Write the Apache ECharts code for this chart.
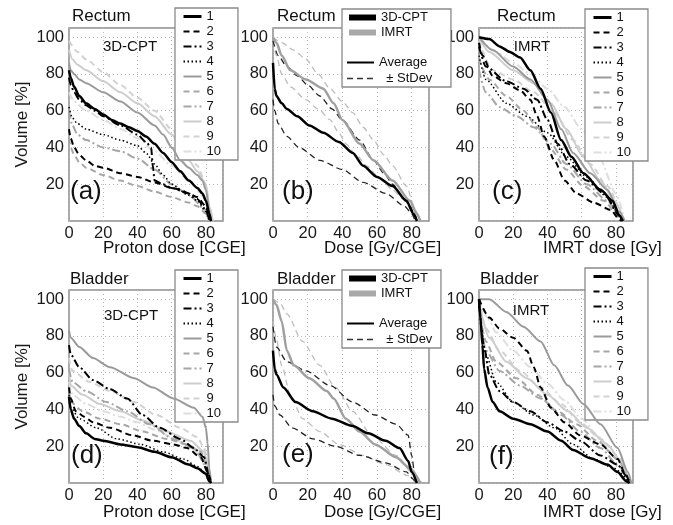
<!DOCTYPE html>
<html>
<head>
<meta charset="utf-8">
<script src="https://cdn.jsdelivr.net/npm/echarts@6/dist/echarts.min.js"></script>
<style>html,body{margin:0;padding:0;background:#fff;}#chart{width:673px;height:525px;}</style>
</head>
<body>
<div id="chart"></div>
<script>
// ---------- data: [dose, volume %] pairs ----------
const patientNames = ['1','2','3','4','5','6','7','8','9','10'];
const xTicks = [0, 20, 40, 60, 80];
const yTicks = [20, 40, 60, 80, 100];

// (a) Rectum, 3D-CPT, patients 1..10
const rectumCPT = [
  [[0,82],[1,78],[3,73],[6,68],[10,64],[15,61],[20,58],[25,55],[30,53],[35,51],[40,49],[45,46],[50,42],[55,37],[60,32],[65,27],[70,22],[75,18],[78,15],[80,11],[82,4],[83,0]],
  [[0,50],[1,45],[3,40],[6,36],[10,33],[15,30],[20,29],[30,26],[40,24],[50,21],[60,18],[65,17],[70,15],[75,13],[80,8],[82,2],[83,0]],
  [[0,78],[1,74],[3,70],[6,66],[10,63],[15,60],[20,57],[30,52],[40,47],[45,43],[48,40],[49,30],[50,22],[55,20],[60,18],[70,15],[75,12],[80,6],[82,1],[83,0]],
  [[0,62],[2,56],[5,53],[10,50],[20,47],[30,44],[40,41],[45,37],[50,31],[55,25],[60,20],[70,14],[75,11],[80,5],[82,0]],
  [[0,86],[1,82],[3,80],[6,77],[10,75],[20,70],[30,65],[40,59],[50,52],[55,47],[60,40],[65,33],[70,29],[75,25],[78,22],[80,17],[82,6],[83,0]],
  [[0,45],[1,40],[3,36],[6,32],[10,29],[20,25],[30,22],[40,19],[50,16],[60,13],[70,10],[75,8],[80,4],[82,0]],
  [[0,60],[2,52],[5,47],[10,44],[20,40],[30,38],[40,34],[50,28],[60,20],[70,14],[80,6],[82,0]],
  [[0,93],[2,88],[5,85],[10,82],[20,76],[30,70],[40,64],[50,57],[60,47],[70,33],[75,27],[80,20],[82,8],[84,0]],
  [[0,98],[5,92],[10,88],[20,81],[30,74],[40,67],[50,60],[60,50],[70,38],[75,30],[80,20],[82,8],[84,0]],
  [[0,70],[3,65],[10,60],[20,55],[30,50],[40,45],[50,38],[60,30],[70,22],[80,12],[83,0]]
];

// (b) Rectum, averages and +/- StDev
const rectumCptMean  = [[0,86],[1,72],[2,68],[5,64],[8,61],[14,57],[21,52],[29,48],[38,43],[46,37],[52,30],[60,24],[69,19],[77,11],[81,4],[83,0]];
const rectumCptPlus  = [[0,98],[3,90],[8,84],[14,79],[20,74],[27,68],[34,61],[40,55],[50,44],[58,33],[64,26],[69,20],[75,13],[79,8],[82,3],[83,0]];
const rectumCptMinus = [[0,66],[1,60],[3,53],[8,46],[15,40],[27,33],[40,28],[52,21],[65,15],[76,8],[80,4],[82,0]];
const rectumImrtMean  = [[0,100],[2,97],[5,90],[10,82],[19,77],[29,72],[35,64],[40,55],[50,42],[58,33],[69,22],[79,11],[83,4],[85,0]];
const rectumImrtPlus  = [[0,100],[5,97],[12,93],[19,88],[26,80],[33,72],[40,65],[46,59],[52,51],[58,44],[64,36],[69,30],[77,19],[82,6],[85,0]];
const rectumImrtMinus = [[0,98],[2,90],[5,80],[10,73],[19,66],[26,61],[33,55],[38,48],[42,42],[48,36],[54,30],[62,23],[69,17],[75,12],[79,8],[84,0]];

// (c) Rectum, IMRT, patients 1..10
const rectumIMRT = [
  [[0,100],[6,99],[12,95],[18,92],[24,89],[30,82],[36,72],[42,59],[48,44],[54,35],[61,26],[71,17],[78,11],[82,3],[84,0]],
  [[0,97],[2,90],[8,79],[16,75],[24,71],[30,66],[34,57],[38,46],[44,33],[50,22],[57,15],[67,10],[77,6],[82,1],[83,0]],
  [[0,95],[4,84],[16,76],[26,72],[34,66],[40,55],[46,42],[53,31],[63,22],[73,15],[82,3],[84,0]],
  [[0,90],[4,77],[16,64],[28,57],[40,48],[51,35],[63,24],[75,13],[82,3],[84,0]],
  [[0,100],[8,93],[20,84],[30,77],[40,66],[48,50],[55,37],[65,26],[75,17],[82,5],[85,0]],
  [[0,88],[6,77],[16,68],[26,60],[34,51],[42,39],[51,28],[61,19],[73,11],[82,2],[84,0]],
  [[0,82],[4,70],[12,62],[22,57],[32,51],[42,42],[51,31],[63,20],[75,11],[82,3],[84,0]],
  [[0,100],[6,92],[20,82],[32,75],[42,64],[51,50],[61,35],[71,22],[79,11],[85,0]],
  [[0,98],[8,82],[20,77],[32,70],[44,59],[55,44],[65,31],[75,19],[84,0]],
  [[0,100],[10,92],[20,86],[30,80],[40,72],[50,62],[60,50],[70,35],[80,15],[85,0]]
];

// (d) Bladder, 3D-CPT, patients 1..10
const bladderCPT = [
  [[0,47],[1,40],[3,35],[6,31],[10,27],[15,24],[20,23],[30,21],[40,19.5],[50,17],[60,14],[70,10],[75,8],[80,5],[82,1],[83,0]],
  [[0,52],[1,46],[4,39],[9,36],[14,33],[24,30],[37,26],[49,23],[61,21],[69,19],[77,14],[81,6],[83,0]],
  [[0,75],[1,70],[6,63],[14,56],[24,51],[34,46],[43,37],[53,30],[65,24],[73,19],[79,14],[82,3],[83,0]],
  [[0,48],[1,41],[6,35],[16,30],[28,24],[42,21],[55,17],[67,13],[75,9],[80,5],[82,2],[83,0]],
  [[0,83],[1,79],[6,74],[14,68],[24,63],[38,57],[49,52],[61,46],[73,41],[78,36],[80,30],[81,22],[82,8],[83,0]],
  [[0,50],[1,44],[8,39],[18,35],[30,32],[43,28],[57,24],[69,21],[77,17],[81,8],[83,0]],
  [[0,62],[2,55],[10,50],[22,44],[34,39],[47,32],[61,24],[73,19],[81,8],[83,0]],
  [[0,60],[1,53],[8,48],[18,43],[30,39],[43,34],[57,28],[71,23],[79,17],[82,5],[83,0]],
  [[0,68],[2,61],[12,55],[24,50],[38,44],[51,37],[65,30],[75,25],[79,19],[82,6],[83,0]],
  [[0,55],[2,48],[10,43],[20,39],[30,36],[40,33],[50,29],[60,25],[70,20],[80,12],[83,0]]
];

// (e) Bladder, averages and +/- StDev
const bladderCptMean  = [[0,72],[1,62],[2,59],[6,52],[13,44],[23,39],[34,35],[46,31],[55,27],[65,23],[73,19],[78,12],[80,6],[83,0]];
const bladderCptPlus  = [[0,85],[2,74],[8,66],[19,61],[33,53],[46,44],[59,37],[71,32],[78,26],[80,15],[82,3],[83,0]];
const bladderCptMinus = [[0,48],[1,42],[4,37],[11,30],[23,24],[36,20],[50,15],[65,11],[77,6],[81,2],[82,0]];
const bladderImrtMean  = [[0,100],[2,97],[5,88],[8,72],[12,64],[21,57],[31,50],[35,46],[42,35],[50,28],[59,21],[71,14],[79,8],[85,0]];
const bladderImrtPlus  = [[0,100],[4,98],[8,92],[17,77],[27,64],[36,52],[46,39],[57,26],[71,15],[80,6],[86,0]];
const bladderImrtMinus = [[0,88],[2,78],[5,64],[10,48],[17,35],[27,28],[38,21],[52,15],[65,10],[78,4],[84,0]];

// (f) Bladder, IMRT, patients 1..10
const bladderIMRT = [
  [[0,100],[1,88],[2,75],[3,62],[5,52],[8,44],[12,39],[20,35],[30,32],[40,28],[48,23],[55,18],[65,13.5],[75,10],[81,6],[86,1],[88,0]],
  [[0,100],[6,90],[12,84],[20,79],[28,72],[32,63],[36,52],[42,41],[50,33],[59,26],[71,21],[81,13],[85,6],[88,0]],
  [[0,98],[3,74],[6,59],[12,50],[20,44],[30,39],[40,33],[50,28],[59,23],[71,15],[81,10],[86,4],[88,0]],
  [[0,96],[4,70],[10,55],[20,44],[32,37],[44,30],[55,21],[67,13],[79,8],[88,0]],
  [[0,100],[6,100],[16,93],[26,85],[36,77],[44,64],[52,53],[61,43],[71,32],[81,19],[87,6],[89,0]],
  [[0,95],[4,77],[10,66],[22,57],[34,48],[46,39],[57,32],[69,23],[81,13],[88,0]],
  [[0,95],[4,72],[12,61],[24,53],[36,46],[48,37],[59,28],[71,19],[81,10],[88,0]],
  [[0,98],[6,79],[16,66],[28,57],[40,48],[52,39],[63,30],[75,21],[83,12],[88,0]],
  [[0,100],[4,84],[12,72],[24,61],[36,52],[48,43],[59,33],[71,24],[83,13],[88,0]],
  [[0,100],[5,90],[10,82],[20,72],[30,63],[40,54],[50,45],[60,35],[70,25],[80,14],[88,0]]
];

// ---------- styling / layout ----------
const FONT = '"Liberation Sans", Arial, Helvetica, sans-serif';
const patientStyles = [
  {color:'#000000', type:'solid', width:2.5},
  {color:'#000000', type:[6,4], width:2},
  {color:'#000000', type:[8,3,2,3], width:2},
  {color:'#000000', type:[1.5,2.5], width:1.5},
  {color:'#9a9a9a', type:'solid', width:2},
  {color:'#a6a6a6', type:[6,4], width:2},
  {color:'#a6a6a6', type:[8,3,2,3], width:2},
  {color:'#cdcdcd', type:'solid', width:2},
  {color:'#d2d2d2', type:[6,4], width:2},
  {color:'#dedede', type:[8,3,2,3], width:2}
];
const grids = [
  {left:69,  top:28,  width:154, height:193},
  {left:273, top:28,  width:156, height:193},
  {left:479, top:28,  width:154, height:193},
  {left:69,  top:290, width:154, height:193},
  {left:273, top:290, width:156, height:193},
  {left:479, top:290, width:154, height:193}
];

const xAxes = grids.map((g, i) => ({
  type:'value', gridIndex:i, min:0, max:90, interval:20,
  axisLine:{show:false}, axisTick:{show:false},
  splitLine:{show:true, lineStyle:{type:[1,3], color:'#b4b4b4', width:1}},
  axisLabel:{fontFamily:FONT, fontSize:16.5, color:'#1a1a1a', margin:4,
    formatter: v => xTicks.indexOf(v) >= 0 ? String(v) : ''}
}));
const yAxes = grids.map((g, i) => ({
  type:'value', gridIndex:i, min:0, max:105, interval:20,
  name: (i === 0 || i === 3) ? 'Volume [%]' : '',
  nameLocation:'middle', nameGap:38,
  nameTextStyle:{fontFamily:FONT, fontSize:17, color:'#1a1a1a'},
  axisLine:{show:false}, axisTick:{show:false},
  splitLine:{show:true, lineStyle:{type:[1,3], color:'#b4b4b4', width:1}},
  axisLabel:{fontFamily:FONT, fontSize:16.5, color:'#1a1a1a', margin:5,
    formatter: v => yTicks.indexOf(v) >= 0 ? String(v) : ''}
}));

const series = [];
function addPatients(curves, gi) {
  curves.forEach((pts, k) => {
    series.push({
      type:'line', name:patientNames[k], xAxisIndex:gi, yAxisIndex:gi,
      data:pts, symbol:'none', smooth:0.25, smoothMonotone:'x',
      lineStyle:{color:patientStyles[k].color, type:patientStyles[k].type, width:patientStyles[k].width},
      itemStyle:{color:patientStyles[k].color},
      z: 10 - k
    });
  });
}
function addAverages(gi, cptMean, cptPlus, cptMinus, imrtMean, imrtPlus, imrtMinus) {
  const mk = (name, pts, color, type, width, z) => ({
    type:'line', name:name, xAxisIndex:gi, yAxisIndex:gi, data:pts, symbol:'none',
    smooth:0.25, smoothMonotone:'x', z:z,
    lineStyle:{color:color, type:type, width:width}, itemStyle:{color:color}
  });
  series.push(mk('± StDev', cptPlus, '#222222', [6,4], 1.3, 3));
  series.push(mk('± StDev', cptMinus, '#222222', [6,4], 1.3, 3));
  series.push(mk('± StDev', imrtPlus, '#bdbdbd', [6,4], 1.3, 2));
  series.push(mk('± StDev', imrtMinus, '#bdbdbd', [6,4], 1.3, 2));
  series.push(mk('IMRT', imrtMean, '#a0a0a0', 'solid', 2.5, 4));
  series.push(mk('3D-CPT', cptMean, '#000000', 'solid', 2.5, 5));
}
addPatients(rectumCPT, 0);
addAverages(1, rectumCptMean, rectumCptPlus, rectumCptMinus, rectumImrtMean, rectumImrtPlus, rectumImrtMinus);
addPatients(rectumIMRT, 2);
addPatients(bladderCPT, 3);
addAverages(4, bladderCptMean, bladderCptPlus, bladderCptMinus, bladderImrtMean, bladderImrtPlus, bladderImrtMinus);
addPatients(bladderIMRT, 5);
// legend-only entry for the "Average" line style
series.push({type:'line', name:'Average', xAxisIndex:1, yAxisIndex:1, data:[], symbol:'none',
  lineStyle:{color:'#000', width:2}, itemStyle:{color:'#000'}});

const hiddenSymbol = {opacity:0, borderWidth:0};
function patientLegend(left, top) {
  return {
    orient:'vertical', left:left, top:top, itemWidth:18, itemHeight:13, itemGap:2,
    padding:[2,17,2,7], backgroundColor:'#fff', borderColor:'#8a8a8a', borderWidth:1.3,
    borderRadius:0, selectedMode:false,
    textStyle:{fontFamily:FONT, fontSize:13, color:'#111'},
    itemStyle:hiddenSymbol,
    lineStyle:{width:2},
    data: patientNames.map((n, k) => ({name:n, itemStyle:hiddenSymbol, lineStyle:{width: k === 0 ? 3 : 2}}))
  };
}
function avgLegends(top, rightPad) {
  return [
    {orient:'vertical', left:342, top:top, itemWidth:27, itemHeight:13, itemGap:2,
     padding:[2,rightPad,48,4], backgroundColor:'#fff', borderColor:'#8a8a8a', borderWidth:1.3,
     selectedMode:false, textStyle:{fontFamily:FONT, fontSize:13, color:'#111'},
     itemStyle:hiddenSymbol,
     data:[{name:'3D-CPT', itemStyle:hiddenSymbol, lineStyle:{width:6, color:'#000'}},
           {name:'IMRT', itemStyle:hiddenSymbol, lineStyle:{width:6, color:'#a8a8a8'}}]},
    {orient:'vertical', left:342, top:top + 47, itemWidth:27, itemHeight:13, itemGap:3,
     padding:[0,0,0,4], selectedMode:false, textStyle:{fontFamily:FONT, fontSize:13, color:'#111'},
     itemStyle:hiddenSymbol,
     formatter: n => n === '± StDev' ? '  ± StDev' : n,
     data:[{name:'Average', itemStyle:hiddenSymbol, lineStyle:{width:2}},
           {name:'± StDev', itemStyle:hiddenSymbol, lineStyle:{width:1.5, color:'#333'}}]}
  ];
}

const txt = (text, x, y, size, align) => ({
  type:'text', x:x, y:y, z:50,
  style:{text:text, font: size + 'px ' + FONT, fill:'#111', align: align || 'left', verticalAlign:'middle'}
});

const option = {
  backgroundColor:'#fff',
  animation:false,
  grid: grids.map(g => Object.assign({show:true, borderColor:'#8c8c8c', borderWidth:1.5, backgroundColor:'#fff'}, g)),
  xAxis: xAxes,
  yAxis: yAxes,
  legend: [patientLegend(175, 8)].concat(avgLegends(9, 23), [patientLegend(585, 9), patientLegend(175, 270)], avgLegends(270, 13), [patientLegend(585, 268)]),
  series: series,
  graphic: [
    txt('Rectum', 72, 16, 17), txt('Rectum', 277, 16, 17), txt('Rectum', 497, 16, 17),
    txt('Bladder', 70, 279, 17), txt('Bladder', 277, 279, 17), txt('Bladder', 480, 279, 17),
    txt('Proton dose [CGE]', 103, 248, 17), txt('Dose [Gy/CGE]', 324, 248, 17), txt('IMRT dose [Gy]', 543, 248, 17),
    txt('Proton dose [CGE]', 103, 512, 17), txt('Dose [Gy/CGE]', 324, 512, 17), txt('IMRT dose [Gy]', 543, 512, 17),
    txt('(a)', 70, 192, 26), txt('(b)', 282, 192, 26), txt('(c)', 492, 192, 26),
    txt('(d)', 71, 456, 26), txt('(e)', 282, 455, 26), txt('(f)', 489, 457, 26),
    txt('3D-CPT', 130, 47, 15, 'center'), txt('IMRT', 532, 47, 15, 'center'),
    txt('3D-CPT', 131, 316, 15, 'center'), txt('IMRT', 531, 311, 15, 'center')
  ]
};

const chart = echarts.init(document.getElementById('chart'), null, {renderer:'canvas'});
chart.setOption(option);
</script>
</body>
</html>
